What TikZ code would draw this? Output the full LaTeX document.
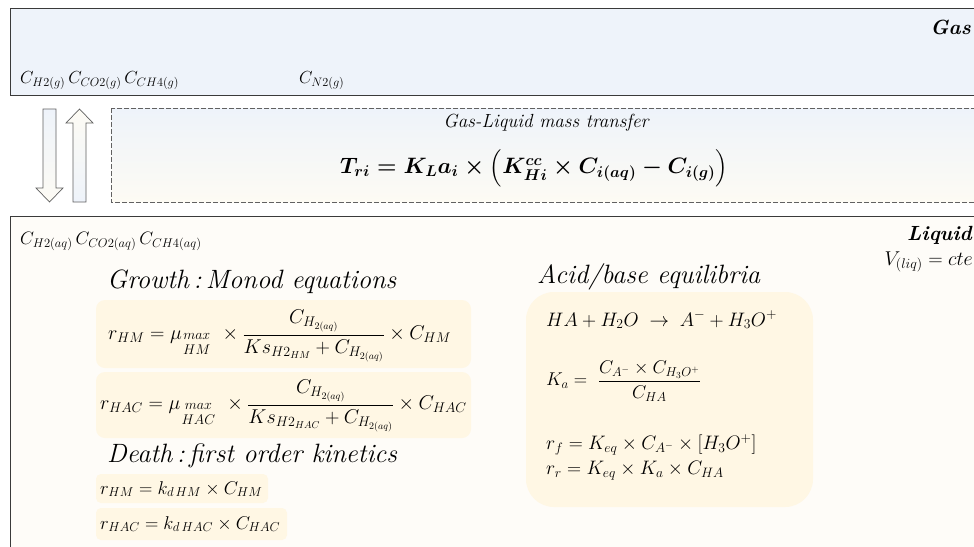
\RequirePackage{fix-cm}
\documentclass[tikz,border=0pt]{standalone}
\usepackage{amsmath}
\definecolor{gasfill}{HTML}{EEF3FA}
\definecolor{liqfill}{HTML}{FEFCF8}
\definecolor{eqfill}{HTML}{FFF7E4}
\definecolor{edge}{HTML}{3A3A3A}
\definecolor{creamtop}{HTML}{FDFBF4}
\tikzset{
  phasebox/.style={draw=edge, line width=0.9pt},
  eqbox/.style={fill=eqfill, rounded corners=9pt},
  lbl/.style={inner sep=0pt, font=\fontsize{17.5}{20}\selectfont},
  head/.style={inner sep=0pt, anchor=west, font=\fontsize{26.5}{30}\selectfont\itshape},
  eq/.style={inner sep=0pt, anchor=west, font=\fontsize{18.5}{22}\selectfont},
  bigeq/.style={eq, font=\fontsize{20}{24}\selectfont},
  blockarrow/.style={draw=edge!80, line width=0.7pt},
}
\newcommand{\stk}[2]{\genfrac{}{}{0pt}{1}{#1}{#2}}
\newcommand{\trformula}{\ensuremath{\boldsymbol{T_{ri} = K_L a_i \times \Bigl(K^{cc}_{Hi} \times C_{i(aq)} - C_{i(g)}\Bigr)}}}
\begin{document}
\begin{tikzpicture}[x=1pt,y=-1pt]
\useasboundingbox (0,0) rectangle (974,546);
\clip (0,0) rectangle (974,546);
\fill[white] (0,0) rectangle (974,546);
% gas phase
\draw[phasebox, fill=gasfill] (10,8) rectangle (985,95);
\node[lbl, anchor=east, font=\fontsize{20.5}{23}\selectfont\bfseries\itshape] (gas) at (971,27) {Gas};
\node[lbl, anchor=base west] (cg) at (20,83) {$C_{H2(g)}\,C_{CO2(g)}\,C_{CH4(g)}$};
\node[lbl, anchor=base west] (cn) at (299,83) {$C_{N2(g)}$};
% arrows
\draw[blockarrow, top color=gasfill, bottom color=creamtop]
  (43,109) -- (56,109) -- (56,188) -- (63,188) -- (49.5,202) -- (36,188) -- (43,188) -- cycle;
\draw[blockarrow, top color=creamtop, bottom color=gasfill]
  (73,202) -- (86,202) -- (86,123) -- (93,123) -- (79.5,109) -- (66,123) -- (73,123) -- cycle;
% mass transfer box
\draw[draw=edge!80, dash pattern=on 5pt off 2pt, line width=0.7pt, top color=gasfill, bottom color=creamtop] (111,108) rectangle (985,202);
\node[lbl, font=\fontsize{19}{22}\selectfont\itshape] (mt) at (546,123) {Gas-Liquid mass transfer};
\node[lbl, font=\fontsize{22.3}{26}\selectfont] (tr) at (534,168) {\trformula};
% liquid phase
\draw[phasebox, fill=liqfill] (10,216) rectangle (985,560);
\node[lbl, anchor=base west, font=\fontsize{18}{21}\selectfont] (cl) at (20,244) {$C_{H2(aq)}\,C_{CO2(aq)}\,C_{CH4(aq)}$};
\node[lbl, anchor=east, font=\fontsize{20.5}{23}\selectfont\bfseries\itshape] (liq) at (972,235) {Liquid};
\node[lbl, anchor=east, font=\fontsize{20}{23}\selectfont] (vl) at (973,262) {$V_{(liq)} = cte$};
% growth
\node[head] (gh) at (107,282) {Growth\,:\,Monod equations};
\fill[eqbox] (96,300) rectangle (471,368);
\node[bigeq] (e1) at (108,336) {$r_{HM} = \mu_{\stk{max}{HM}}\ \times \dfrac{C_{H_{2(aq)}}}{Ks_{H2_{HM}} + C_{H_{2(aq)}}} \times C_{HM}$};
\fill[eqbox] (96,372) rectangle (471,438);
\node[bigeq] (e2) at (100,406) {$r_{HAC} = \mu_{\stk{max}{HAC}}\ \times \dfrac{C_{H_{2(aq)}}}{Ks_{H2_{HAC}} + C_{H_{2(aq)}}} \times C_{HAC}$};
% death
\node[head] (dh) at (107,456) {Death\,:\,first order kinetics};
\fill[eqbox, rounded corners=5pt] (96,474) rectangle (268,503);
\node[eq] (e3) at (100,489) {$r_{HM} = k_{d\,HM} \times C_{HM}$};
\fill[eqbox, rounded corners=5pt] (96,508) rectangle (287,540);
\node[eq] (e4) at (100,524) {$r_{HAC} = k_{d\,HAC} \times C_{HAC}$};
% acid base
\node[head] (ah) at (537,277) {Acid/base equilibria};
\fill[eqbox, rounded corners=28pt] (526,292) rectangle (813,507);
\node[eq, font=\fontsize{19.5}{23}\selectfont] (a1) at (546,320) {$HA + H_2O \;\rightarrow\; A^{-} + H_3O^{+}$};
\node[eq] (a2) at (546,381) {$K_a = \ \dfrac{C_{A^-}\times C_{H_3O^+}}{C_{HA}}$};
\node[eq, font=\fontsize{19.5}{23}\selectfont] (a3) at (546,445) {$r_f = K_{eq} \times C_{A^-} \times [H_3O^+]$};
\node[eq, font=\fontsize{19.5}{23}\selectfont] (a4) at (546,471) {$r_r = K_{eq} \times K_a \times C_{HA}$};
\end{tikzpicture}
\end{document}
